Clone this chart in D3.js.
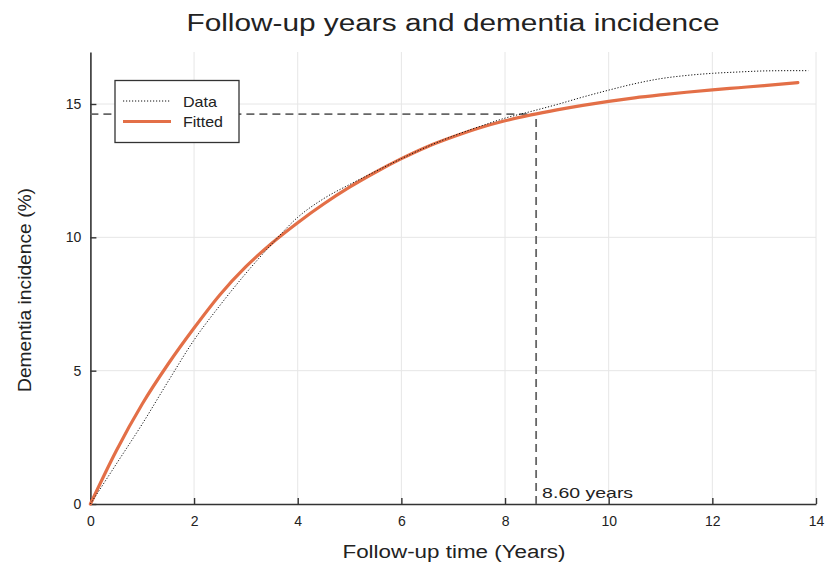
<!DOCTYPE html>
<html><head><meta charset="utf-8">
<script src="https://cdn.jsdelivr.net/npm/d3@7"></script>
<style>
html,body{margin:0;padding:0;background:#fff;}
text{font-family:"Liberation Sans",Arial,Helvetica,sans-serif;fill:#222;}
</style></head>
<body><svg id="chart" width="830" height="568"></svg>
<script>
// ---- data ----
const dataYears = [0,0.5,1,1.5,2,2.5,3,3.5,4,4.5,5,5.5,6,6.5,7,7.5,8,8.5,9,9.5,10,10.5,11,11.5,12,12.5,13,13.5,13.85];
const dataIncidence = [0,1.5,3.0,4.6,6.15,7.45,8.65,9.75,10.75,11.45,11.98,12.47,12.95,13.4,13.8,14.15,14.47,14.72,14.98,15.26,15.52,15.76,15.95,16.07,16.15,16.2,16.24,16.25,16.25];
const fitYears = [0,0.5,1,1.5,2,2.5,3,3.5,4,4.5,5,5.5,6,6.5,7,7.5,8,8.5,9,9.5,10,10.5,11,11.5,12,12.5,13,13.65];
const fitIncidence = [0,2.0,3.75,5.25,6.6,7.85,8.9,9.78,10.55,11.25,11.88,12.44,12.95,13.4,13.77,14.1,14.37,14.59,14.78,14.95,15.1,15.23,15.34,15.44,15.53,15.61,15.69,15.8];
const markYear = 8.60;
const markIncidence = 14.62;
const xTicks = [0,2,4,6,8,10,12,14];
const yTicks = [0,5,10,15];
const legendLabels = ["Data","Fitted"];
const titleText = "Follow-up years and dementia incidence";
const xLabel = "Follow-up time (Years)";
const yLabel = "Dementia incidence (%)";
const markLabel = markYear.toFixed(2) + " years";

// ---- layout ----
const svg = d3.select("#chart");
const pLeft = 90.4, pRight = 816, pTop = 52, pBottom = 504;
const x = d3.scaleLinear().domain([0,14]).range([pLeft,pRight]);
const y = d3.scaleLinear().domain([0,16.95]).range([pBottom,pTop]);
const fitColor = "#E36F47";

// grid
svg.append("g").selectAll("line").data(xTicks.filter(d=>d>0)).join("line")
  .attr("x1",d=>x(d)).attr("x2",d=>x(d)).attr("y1",pTop).attr("y2",pBottom)
  .attr("stroke","#e6e6e6").attr("stroke-width",1);
svg.append("g").selectAll("line").data(yTicks.filter(d=>d>0)).join("line")
  .attr("x1",pLeft).attr("x2",pRight).attr("y1",d=>y(d)).attr("y2",d=>y(d))
  .attr("stroke","#e6e6e6").attr("stroke-width",1);

// axes
const xAxis = d3.axisBottom(x).tickValues(xTicks).tickSizeInner(-6).tickSizeOuter(0).tickPadding(12).tickFormat(d3.format("d"));
const gx = svg.append("g").attr("transform",`translate(0,${pBottom})`).call(xAxis);
gx.select(".domain").attr("stroke","#333").attr("stroke-width",1.6);
gx.selectAll(".tick line").attr("stroke","#333").attr("stroke-width",1.4);
gx.selectAll(".tick text").attr("font-size",14).attr("fill","#222").style("font-family","Liberation Sans, Arial, sans-serif");

const yAxis = d3.axisLeft(y).tickValues(yTicks).tickSizeInner(-6).tickSizeOuter(0).tickPadding(9).tickFormat(d3.format("d"));
const gy = svg.append("g").attr("transform",`translate(${pLeft},0)`).call(yAxis);
gy.select(".domain").attr("stroke","#333").attr("stroke-width",1.6);
gy.selectAll(".tick line").attr("stroke","#333").attr("stroke-width",1.4);
gy.selectAll(".tick text").attr("font-size",14).attr("fill","#222").style("font-family","Liberation Sans, Arial, sans-serif");

// reference dashed lines
svg.append("line").attr("x1",x(0)).attr("x2",x(markYear)).attr("y1",y(markIncidence)).attr("y2",y(markIncidence))
  .attr("stroke","#666").attr("stroke-width",1.8).attr("stroke-dasharray","8,5");
svg.append("line").attr("x1",x(markYear)).attr("x2",x(markYear)).attr("y1",y(0)).attr("y2",y(markIncidence))
  .attr("stroke","#666").attr("stroke-width",1.8).attr("stroke-dasharray","8,5");

// curves
const line = d3.line().x(d=>x(d[0])).y(d=>y(d[1])).curve(d3.curveMonotoneX);
const dataPts = dataYears.map((v,i)=>[v,dataIncidence[i]]);
const fitPts = fitYears.map((v,i)=>[v,fitIncidence[i]]);
svg.append("path").datum(fitPts).attr("d",line).attr("fill","none")
  .attr("stroke",fitColor).attr("stroke-width",3.2).attr("stroke-linecap","round");
svg.append("path").datum(dataPts).attr("d",line).attr("fill","none")
  .attr("stroke","#111").attr("stroke-width",1).attr("stroke-dasharray","1.2,1.8");

// mark label
svg.append("text").attr("x",x(markYear)+6).attr("y",pBottom-6).attr("font-size",15)
  .attr("textLength",91).attr("lengthAdjust","spacingAndGlyphs").text(markLabel);

// legend
const lg = svg.append("g");
lg.append("rect").attr("x",115).attr("y",80.5).attr("width",124).attr("height",62)
  .attr("fill","#fff").attr("stroke","#333").attr("stroke-width",1.3);
const legStyles = [{stroke:"#111",w:1,dash:"1.2,1.8"},{stroke:fitColor,w:3.2,dash:null}];
legendLabels.forEach((lab,i)=>{
  const yy = 101 + i*20.5;
  lg.append("line").attr("x1",123).attr("x2",171).attr("y1",yy).attr("y2",yy)
    .attr("stroke",legStyles[i].stroke).attr("stroke-width",legStyles[i].w)
    .attr("stroke-dasharray",legStyles[i].dash);
  const t = lg.append("text").attr("x",183).attr("y",yy+5.5).attr("font-size",15).text(lab);
  t.attr("textLength", i===0?34:40).attr("lengthAdjust","spacingAndGlyphs");
});

// title & axis labels
svg.append("text").attr("x",453).attr("y",31).attr("text-anchor","middle").attr("font-size",23)
  .attr("textLength",533).attr("lengthAdjust","spacingAndGlyphs").text(titleText);
svg.append("text").attr("x",454).attr("y",558).attr("text-anchor","middle").attr("font-size",18)
  .attr("textLength",223).attr("lengthAdjust","spacingAndGlyphs").text(xLabel);
svg.append("text").attr("transform","translate(31,290) rotate(-90)").attr("text-anchor","middle").attr("font-size",19)
  .attr("textLength",204).attr("lengthAdjust","spacingAndGlyphs").text(yLabel);
</script></body></html>
